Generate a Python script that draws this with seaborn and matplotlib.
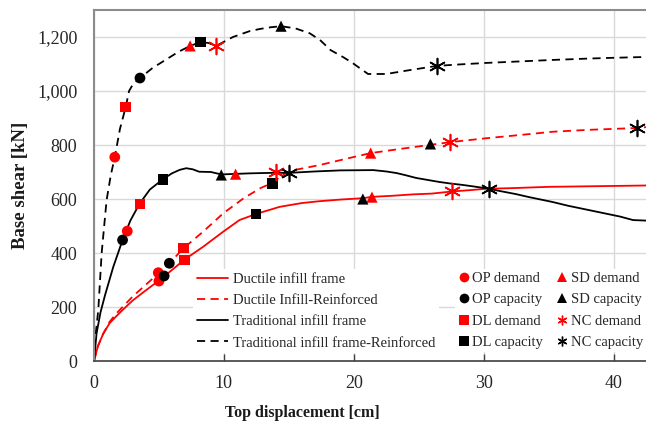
import numpy as np
import pandas as pd
import matplotlib
matplotlib.use("Agg")
import matplotlib.pyplot as plt
import seaborn as sns
from matplotlib.lines import Line2D

sns.set_theme(style="whitegrid")
plt.rcParams['font.family'] = ['Liberation Serif', 'DejaVu Serif']

# pushover curves (displacement cm, base shear kN)
dif_x = [0, 0.3, 0.7, 1.2, 1.7, 2.2, 3.0, 4.0, 5.0, 5.4, 6.2, 6.95, 8.4, 9.95, 11.2, 12.5,
         14.3, 16.0, 17.4, 19.0, 20.7, 21.4, 23.0, 24.5, 26.0, 27.6, 29.0, 30.2, 32.0,
         35.0, 38.0, 42.5]
dif_y = [0, 55, 100, 140, 165, 189, 225, 262, 298, 313, 345, 375, 423, 479, 522, 545,
         571, 585, 592, 598, 603, 608, 612, 617, 620, 628, 633, 638, 640, 645, 647, 650]

difr_x = [0, 0.3, 0.7, 1.2, 1.7, 2.2, 3.0, 4.0, 5.0, 5.8, 6.9, 8.4, 9.95, 11.5, 12.8, 13.75,
          14.5, 15.5, 17.4, 19.5, 21.3, 23.5, 25.8, 27.5, 30.2, 33.0, 35.3, 38.0, 41.8, 42.5]
difr_y = [0, 55, 100, 145, 175, 200, 240, 283, 326, 362, 418, 479, 547, 602, 640, 660,
          690, 708, 726, 750, 770, 785, 800, 811, 825, 838, 849, 856, 863, 866]

tif_x = [0, 0.2, 0.5, 0.85, 1.48, 2.2, 2.8, 3.5, 4.3, 5.3, 6.0, 6.6, 7.1, 7.6, 8.1, 9.0,
         9.8, 10.9, 12.0, 13.8, 15.1, 17.0, 19.0, 21.5, 22.5, 23.3, 24.0, 24.8, 26.0, 26.6,
         27.5, 28.4, 29.3, 30.4, 31.2, 32.5, 33.5, 35.3, 36.5, 38.0, 39.2, 40.5, 41.5, 42.5]
tif_y = [0, 103, 180, 244, 348, 448, 520, 582, 635, 673, 695, 708, 714, 710, 701, 700,
         691, 693, 695, 697, 697, 702, 706, 707, 702, 696, 688, 678, 668, 663, 657, 652,
         646, 638, 630, 618, 607, 589, 575, 560, 548, 535, 522, 520]

tifr_x = [0, 0.08, 0.33, 0.59, 0.97, 1.3, 1.6, 2.0, 2.44, 2.7, 3.0, 3.54, 4.5, 5.5, 6.5,
          7.4, 8.2, 8.8, 9.4, 10.7, 12.0, 12.8, 13.6, 14.4, 15.5, 16.6, 17.4, 18.2, 19.2,
          19.9, 20.6, 21.1, 22.5, 24.0, 26.4, 28.0, 30.2, 33.0, 35.3, 38.0, 40.0, 42.5]
tifr_y = [0, 78, 189, 400, 596, 690, 755, 860, 940, 1000, 1025, 1048, 1085, 1115, 1145,
          1167, 1181, 1178, 1167, 1200, 1222, 1230, 1236, 1240, 1232, 1214, 1189, 1152,
          1125, 1104, 1080, 1063, 1063, 1075, 1093, 1098, 1104, 1110, 1115, 1120, 1123, 1126]

# performance points (x, y) for each limit state
op_dem_x = [1.6, 2.56, 4.95, 5.0]
op_dem_y = [755, 481, 327, 296]
op_cap_x = [3.54, 2.2, 5.4, 5.8]
op_cap_y = [1048, 448, 315, 362]
dl_dem_x = [2.44, 3.54, 6.95, 6.87]
dl_dem_y = [940, 581, 374, 418]
dl_cap_x = [8.2, 5.3, 12.46, 13.75]
dl_cap_y = [1181, 673, 545, 658]
sd_dem_x = [7.4, 10.9, 21.4, 21.3]
sd_dem_y = [1167, 692, 607, 770]
sd_cap_x = [14.4, 9.8, 20.7, 25.9]
sd_cap_y = [1240, 689, 600, 804]
nc_dem_x = [9.4, 14.05, 27.6, 27.4]
nc_dem_y = [1167, 700, 630, 811]
nc_cap_x = [26.4, 15.0, 30.4, 41.8]
nc_cap_y = [1093, 696, 637, 863]

RED = '#ff0000'
BLK = '#000000'

fig = plt.figure(figsize=(6.46, 4.23), dpi=100)
ax = fig.add_axes([94 / 646, 62 / 423, 552 / 646, 351 / 423])

curves = [
    (dif_x, dif_y, RED, '-', 'Ductile infill frame'),
    (difr_x, difr_y, RED, (0, (4.5, 3)), 'Ductile Infill-Reinforced'),
    (tif_x, tif_y, BLK, '-', 'Traditional infill frame'),
    (tifr_x, tifr_y, BLK, (0, (4.5, 3)), 'Traditional infill frame-Reinforced'),
]
line_handles = []
for xs, ys, c, ls, lab in curves:
    sns.lineplot(x=xs, y=ys, ax=ax, color=c, linestyle=ls, linewidth=1.3,
                 estimator=None, sort=False)
    line_handles.append(Line2D([], [], color=c, linestyle=ls, linewidth=1.3, label=lab))

asterisk = (6, 2, 0)
points = [
    (op_dem_x, op_dem_y, RED, 'o', 60, 'OP demand'),
    (op_cap_x, op_cap_y, BLK, 'o', 60, 'OP capacity'),
    (dl_dem_x, dl_dem_y, RED, 's', 58, 'DL demand'),
    (dl_cap_x, dl_cap_y, BLK, 's', 58, 'DL capacity'),
    (sd_dem_x, sd_dem_y, RED, '^', 65, 'SD demand'),
    (sd_cap_x, sd_cap_y, BLK, '^', 65, 'SD capacity'),
    (nc_dem_x, nc_dem_y, RED, asterisk, 130, 'NC demand'),
    (nc_cap_x, nc_cap_y, BLK, asterisk, 130, 'NC capacity'),
]
mark_handles = []
for xs, ys, c, m, s, lab in points:
    if m == asterisk:
        sns.scatterplot(x=xs, y=ys, ax=ax, marker=m, s=s, color=c, edgecolor=c,
                        linewidth=1.2, zorder=5)
        mark_handles.append(Line2D([], [], marker=m, color=c, markeredgecolor=c, linestyle='',
                                   markersize=7, markeredgewidth=1.0, label=lab))
    else:
        sns.scatterplot(x=xs, y=ys, ax=ax, marker=m, s=s, color=c, edgecolor='none',
                        linewidth=0, zorder=5)
        mark_handles.append(Line2D([], [], marker=m, color=c, linestyle='', markersize=7,
                                   markeredgewidth=0, label=lab))

ax.set_xlim(0, 42.5)
ax.set_ylim(0, 1300)
ax.set_xticks([0, 10, 20, 30, 40])
ax.set_yticks(range(0, 1201, 200))
ax.yaxis.set_major_formatter(matplotlib.ticker.FuncFormatter(lambda v, p: f'{int(v):,}'))
ax.grid(True, color='#d9d9d9', linewidth=1.0)
ax.set_facecolor('white')
ax.tick_params(axis='x', direction='in', length=5, width=1, color='#404040',
               labelsize=13, pad=10, bottom=True)
ax.tick_params(axis='y', length=0, labelsize=13, pad=12)
for lab in ax.get_xticklabels() + ax.get_yticklabels():
    lab.set_color('#262626')

for side in ['left', 'top']:
    ax.spines[side].set_color('#8c8c8c')
    ax.spines[side].set_linewidth(1.5)
ax.spines['bottom'].set_color('#404040')
ax.spines['bottom'].set_linewidth(1.2)
ax.spines['right'].set_visible(False)

ax.set_xlabel('Top displacement [cm]', fontsize=11.5, fontweight='bold', color='#1a1a1a')
ax.set_ylabel('Base shear [kN]', fontsize=13.5, fontweight='bold', color='#1a1a1a')
ax.xaxis.set_label_coords(0.377, -0.125)
ax.yaxis.set_label_coords(-0.118, 0.5)

leg1 = ax.legend(handles=line_handles, loc='upper left', bbox_to_anchor=(0.18, 0.262),
                 fontsize=10.5, frameon=True, facecolor='white', edgecolor='none',
                 framealpha=1, fancybox=False, handlelength=2.15, handletextpad=0.3,
                 labelspacing=0.55, borderpad=0.25, borderaxespad=0)
ax.add_artist(leg1)
leg2 = ax.legend(handles=mark_handles, loc='upper right', bbox_to_anchor=(1.0, 0.262),
                 ncol=2, fontsize=10.5, frameon=True, facecolor='white', edgecolor='none',
                 framealpha=1, fancybox=False, handlelength=0.8, handletextpad=0.2,
                 labelspacing=0.55, columnspacing=0.9, borderpad=0.2, borderaxespad=0)
leg1.set_zorder(10)
leg2.set_zorder(10)

fig.savefig('out.png', dpi=100)
